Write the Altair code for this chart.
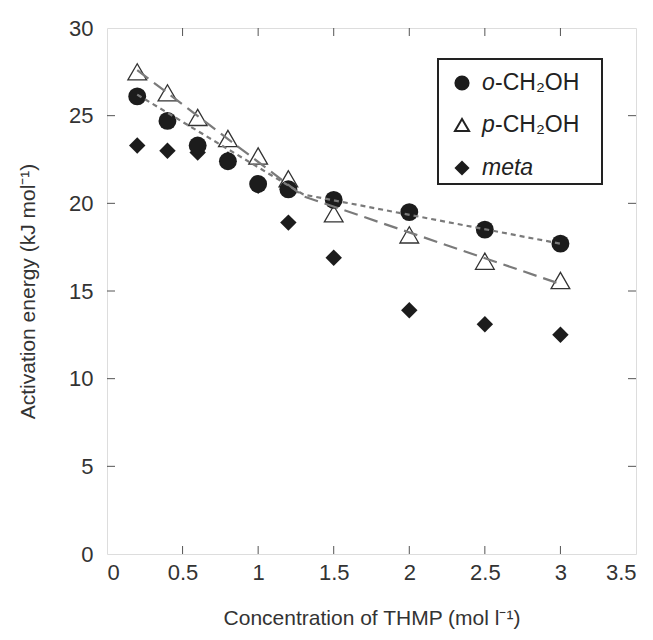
import altair as alt
import pandas as pd

# ---- data ----
conc = [0.2, 0.4, 0.6, 0.8, 1.0, 1.2, 1.5, 2.0, 2.5, 3.0]
o_ch2oh = [26.1, 24.7, 23.3, 22.4, 21.1, 20.8, 20.2, 19.5, 18.5, 17.7]
p_ch2oh = [27.5, 26.3, 24.9, 23.7, 22.7, 21.4, 19.4, 18.2, 16.7, 15.6]
meta = [23.3, 23.0, 22.9, 22.5, 21.0, 18.9, 16.9, 13.9, 13.1, 12.5]

fit_x = [0.2, 1.3, 3.0]
o_fit = [26.2, 20.5, 17.7]
p_fit = [27.6, 20.4, 15.4]

x_ticks = [0.5, 1.0, 1.5, 2.0, 2.5, 3.0]
y_ticks = [5, 10, 15, 20, 25]
x_labels = [0, 0.5, 1, 1.5, 2, 2.5, 3, 3.5]
y_labels = [0, 5, 10, 15, 20, 25, 30]

legend_italic = ["o", "p", "meta"]
legend_rest = ["-CH₂OH", "-CH₂OH", ""]

W, H = 529, 526
FONT = "Liberation Sans"
INK = "#1c1c1c"
LINE = "#7a7a7a"

pts = pd.DataFrame({"x": conc, "o": o_ch2oh, "p": p_ch2oh, "m": meta})
fits = pd.DataFrame({"x": fit_x, "o": o_fit, "p": p_fit})

xs = alt.Scale(domain=[0, 3.5], nice=False, zero=False)
ys = alt.Scale(domain=[0, 30], nice=False)

xaxis = alt.Axis(values=x_labels, format="~g", title="Concentration of THMP (mol l⁻¹)",
                 grid=False, ticks=False, domain=False, labelFontSize=22, labelFont=FONT,
                 labelColor="#333", labelPadding=8, titleFontSize=21, titleFont=FONT,
                 titleFontWeight="normal", titleColor="#333", titlePadding=24)
yaxis = alt.Axis(values=y_labels, format="~g", title="Activation energy (kJ mol⁻¹)",
                 grid=False, ticks=False, domain=False, labelFontSize=22, labelFont=FONT,
                 labelColor="#333", labelPadding=14, titleFontSize=21, titleFont=FONT,
                 titleFontWeight="normal", titleColor="#333", titlePadding=30)

base = alt.Chart(pts)

diamonds = base.mark_point(shape="diamond", filled=True, size=270, color=INK, opacity=1).encode(
    x=alt.X("x:Q", scale=xs, axis=xaxis), y=alt.Y("m:Q", scale=ys, axis=yaxis))
triangles = base.mark_point(shape="triangle-up", filled=True, size=350, fill="white",
                            stroke="#333", strokeWidth=1.3, opacity=1).encode(
    x=alt.X("x:Q", scale=xs), y=alt.Y("p:Q", scale=ys))
circles = base.mark_point(shape="circle", filled=True, size=320, color=INK, opacity=1).encode(
    x=alt.X("x:Q", scale=xs), y=alt.Y("o:Q", scale=ys))

fit_o = alt.Chart(fits).mark_line(color=LINE, strokeWidth=2.2, strokeDash=[5, 4]).encode(
    x=alt.X("x:Q", scale=xs), y=alt.Y("o:Q", scale=ys))
fit_p = alt.Chart(fits).mark_line(color=LINE, strokeWidth=2.2, strokeDash=[14, 7]).encode(
    x=alt.X("x:Q", scale=xs), y=alt.Y("p:Q", scale=ys))

xt = pd.DataFrame({"x": x_ticks})
yt = pd.DataFrame({"y": y_ticks})
tick_style = dict(color="#555", strokeWidth=1)
bt = alt.Chart(xt).mark_rule(**tick_style).encode(
    x=alt.X("x:Q", scale=xs), y=alt.value(H), y2=alt.value(H - 8))
tt = alt.Chart(xt).mark_rule(**tick_style).encode(
    x=alt.X("x:Q", scale=xs), y=alt.value(0), y2=alt.value(8))
lt = alt.Chart(yt).mark_rule(**tick_style).encode(
    y=alt.Y("y:Q", scale=ys), x=alt.value(0), x2=alt.value(8))
rt = alt.Chart(yt).mark_rule(**tick_style).encode(
    y=alt.Y("y:Q", scale=ys), x=alt.value(W), x2=alt.value(W - 8))

# ---- manual legend ----
one = pd.DataFrame({"a": [0]})
lbox = alt.Chart(one).mark_rect(fill="white", stroke="#222", strokeWidth=2).encode(
    x=alt.value(331), x2=alt.value(495), y=alt.value(31), y2=alt.value(156))
row_y = [55, 97, 140]
leg_c = alt.Chart(one).mark_point(shape="circle", filled=True, size=230, color=INK, opacity=1).encode(
    x=alt.value(355), y=alt.value(row_y[0]))
leg_t = alt.Chart(one).mark_point(shape="triangle-up", filled=True, size=200, fill="white",
                                  stroke="#222", strokeWidth=2, opacity=1).encode(
    x=alt.value(355), y=alt.value(row_y[1]))
leg_d = alt.Chart(one).mark_point(shape="diamond", filled=True, size=230, color=INK, opacity=1).encode(
    x=alt.value(355), y=alt.value(row_y[2]))

leg_texts = []
for i in range(3):
    row = pd.DataFrame({"it": [legend_italic[i]], "rest": [legend_rest[i]]})
    leg_texts.append(alt.Chart(row).mark_text(
        align="left", baseline="middle", font=FONT, fontSize=23, fontStyle="italic",
        color="#222").encode(x=alt.value(375), y=alt.value(row_y[i]), text="it:N"))
    if legend_rest[i]:
        leg_texts.append(alt.Chart(row).mark_text(
            align="left", baseline="middle", font=FONT, fontSize=23, color="#222",
            dx=13).encode(x=alt.value(375), y=alt.value(row_y[i]), text="rest:N"))

chart = alt.layer(
    diamonds, triangles, circles, fit_o, fit_p, bt, tt, lt, rt,
    lbox, leg_c, leg_t, leg_d, *leg_texts
).properties(
    width=W, height=H,
    autosize=alt.AutoSizeParams(type="none"),
    padding={"left": 99, "top": 20, "right": 9, "bottom": 78},
).configure_view(stroke="#333", strokeWidth=2.5).configure(background="white")

chart.save("out.html", embed_options={"renderer": "svg", "actions": False})
